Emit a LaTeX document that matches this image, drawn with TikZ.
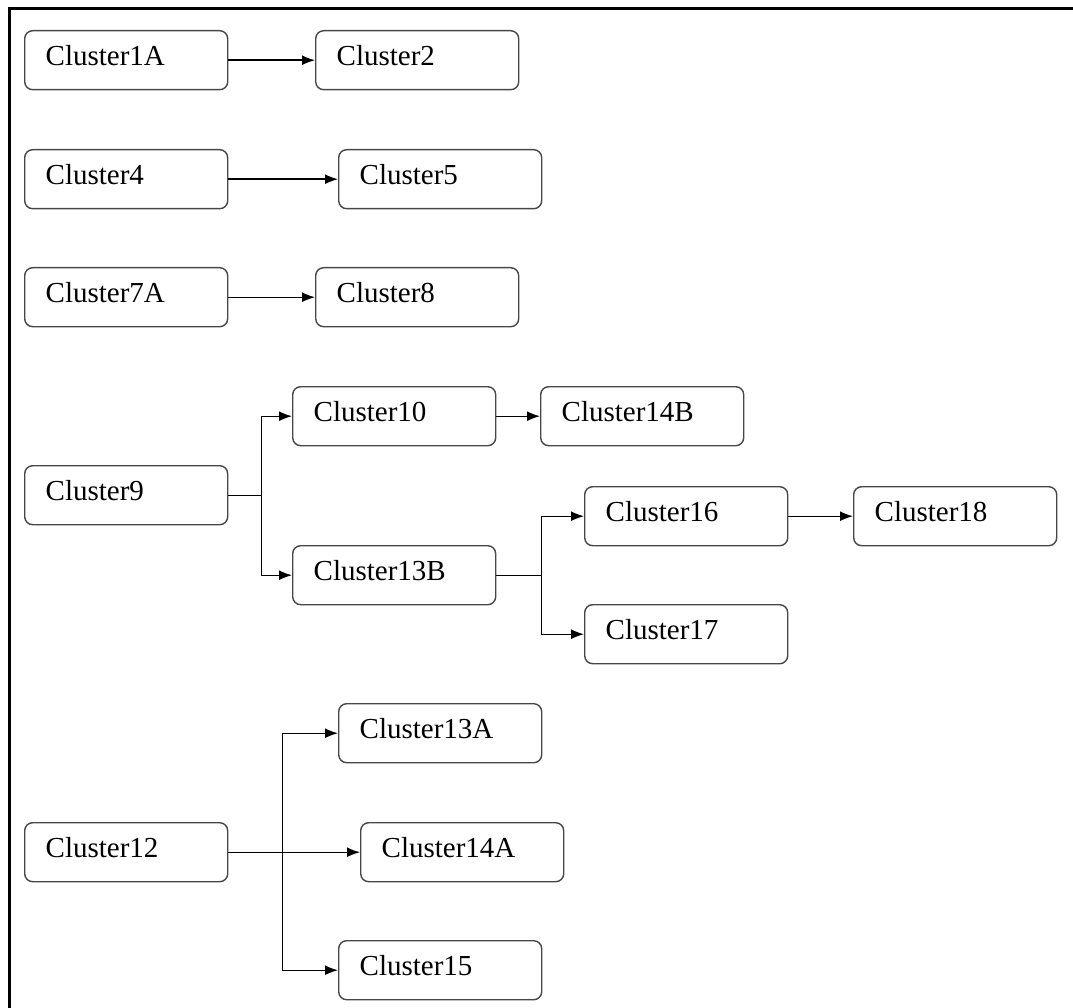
\documentclass[tikz,border=0pt]{standalone}
\usepackage{fontspec}
\setmainfont{LiberationSerif}[Extension=.ttf, UprightFont=*-Regular, BoldFont=*-Bold]
\usetikzlibrary{arrows.meta}
\tikzset{
  cbox/.style={draw=black!72, line width=1.4pt, rounded corners=8pt, anchor=north west,
    minimum width=203pt, minimum height=59pt, inner xsep=21pt, inner ysep=10pt,
    text width=161pt, align=left, text height=25pt, text depth=14pt,
    font=\rmfamily\fontsize{29}{30}\selectfont},
  conn/.style={draw=black, line width=1.4pt},
  arr/.style={conn, -{Latex[length=13pt,width=10pt]}},
}
\begin{document}
\begin{tikzpicture}[x=1pt,y=-1pt]
\useasboundingbox (0,0) rectangle (1073,1008);
\draw[line width=3pt] (9,1008) -- (9,9) -- (1073,9);
\node[cbox] (c1A) at (24,30) {Cluster1A};
\node[cbox] (c2) at (315,30) {Cluster2};
\node[cbox] (c4) at (24,149) {Cluster4};
\node[cbox] (c5) at (338,149) {Cluster5};
\node[cbox] (c7A) at (24,267) {Cluster7A};
\node[cbox] (c8) at (315,267) {Cluster8};
\node[cbox] (c10) at (292,386) {Cluster10};
\node[cbox] (c14B) at (540,386) {Cluster14B};
\node[cbox] (c9) at (24,465) {Cluster9};
\node[cbox] (c13B) at (292,545) {Cluster13B};
\node[cbox] (c16) at (584,486) {Cluster16};
\node[cbox] (c18) at (853,486) {Cluster18};
\node[cbox] (c17) at (584,604) {Cluster17};
\node[cbox] (c13A) at (338,703) {Cluster13A};
\node[cbox] (c12) at (24,822) {Cluster12};
\node[cbox] (c14A) at (360,822) {Cluster14A};
\node[cbox] (c15) at (338,940) {Cluster15};
\draw[arr] (c1A) -- (c2);
\draw[arr] (c4) -- (c5);
\draw[arr] (c7A) -- (c8);
\draw[arr] (c10) -- (c14B);
\draw[arr] (c16) -- (c18);
\draw[conn] (c9.east) -- ++(33,0) coordinate (j9);
\draw[arr] (j9) |- (c10.west);
\draw[arr] (j9) |- (c13B.west);
\draw[conn] (c13B.east) -- ++(45,0) coordinate (j13B);
\draw[arr] (j13B) |- (c16.west);
\draw[arr] (j13B) |- (c17.west);
\path (c12.east) -- ++(54,0) coordinate (j12);
\draw[arr] (c12.east) -- (c14A.west);
\draw[arr] (j12) |- (c13A.west);
\draw[arr] (j12) |- (c15.west);
\end{tikzpicture}
\end{document}
